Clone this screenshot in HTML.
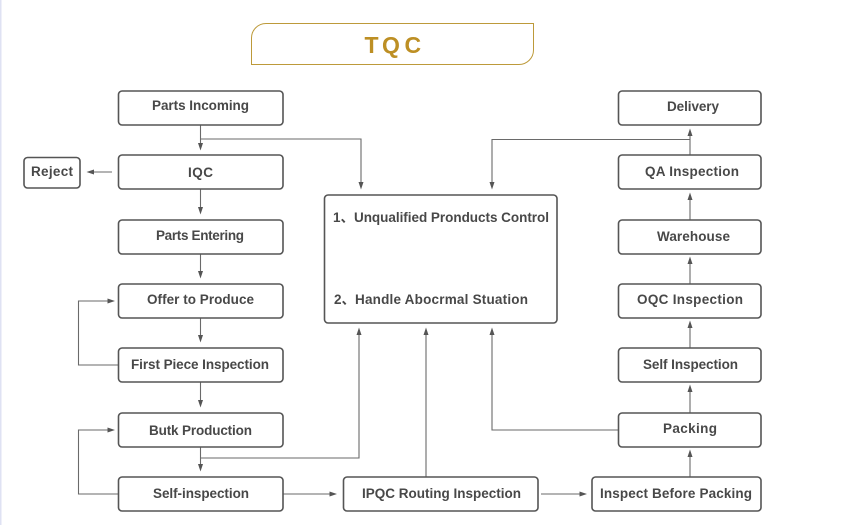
<!DOCTYPE html>
<html><head><meta charset="utf-8"><style>
html,body{margin:0;padding:0;background:#fff;width:853px;height:525px;overflow:hidden}
svg{display:block}
text{font-family:"Liberation Sans","Noto Sans CJK SC",sans-serif;font-weight:bold;font-size:13.5px;fill:#484848}
.b{fill:#fff;stroke:#555;stroke-width:1.6}
.l{fill:none;stroke:#6a6a6a;stroke-width:1.1}
.a{fill:#555}
</style></head><body>
<svg width="853" height="525" viewBox="0 0 853 525" xmlns="http://www.w3.org/2000/svg">
<rect x="0" y="0" width="1.5" height="525" fill="#dfe2f3"/>
<path d="M251.5 64.5V38a14.500 14.500 0 0 1 14.500-14.500H533.500V50a14.500 14.500 0 0 1-14.500 14.500Z" fill="#fff" stroke="#bd9a3a" stroke-width="1"/>
<text x="364.500 382 404.500" y="53" style="font-size:23px;fill:#bd8f24">TQC</text>

<g class="lines">
<path class="l" d="M200.500 125V146M200.500 139H361V185"/>
<path class="l" d="M112 172H92"/>
<path class="l" d="M200.500 189V210"/>
<path class="l" d="M200.500 254V274"/>
<path class="l" d="M200.500 318V338"/>
<path class="l" d="M200.500 382V403"/>
<path class="l" d="M200.500 447V467M200.500 458H359V334"/>
<path class="l" d="M118 365H78.500V301H110"/>
<path class="l" d="M118 494H78.500V430H110"/>
<path class="l" d="M283 494H332"/>
<path class="l" d="M426 477V334"/>
<path class="l" d="M541 494H582"/>
<path class="l" d="M690 477V456"/>
<path class="l" d="M618 430H492V334"/>
<path class="l" d="M690 413V391"/>
<path class="l" d="M690 348V327"/>
<path class="l" d="M690 284V263"/>
<path class="l" d="M690 220V199"/>
<path class="l" d="M690 155V134M690 139.500H492V185"/>
<g class="a">
<path d="M198 143L200.500 150.500L203 143Z"/>
<path d="M358.500 182L361 189.500L363.500 182Z"/>
<path d="M489.500 182L492 189.500L494.500 182Z"/>
<path d="M198 207L200.500 214.500L203 207Z"/>
<path d="M198 271L200.500 278.500L203 271Z"/>
<path d="M198 335L200.500 342.500L203 335Z"/>
<path d="M198 400L200.500 407.500L203 400Z"/>
<path d="M198 464L200.500 471.500L203 464Z"/>
<path d="M94 169.500L86.500 172L94 174.500Z"/>
<path d="M107.500 298.500L115 301L107.500 303.500Z"/>
<path d="M107.500 427.500L115 430L107.500 432.500Z"/>
<path d="M329.500 491.500L337 494L329.500 496.500Z"/>
<path d="M579.500 491.500L587 494L579.500 496.500Z"/>
<path d="M356.500 335L359 327.500L361.500 335Z"/>
<path d="M423.500 335L426 327.500L428.500 335Z"/>
<path d="M489.500 335L492 327.500L494.500 335Z"/>
<path d="M687.500 457L690 449.500L692.500 457Z"/>
<path d="M687.500 392L690 384.500L692.500 392Z"/>
<path d="M687.500 328L690 320.500L692.500 328Z"/>
<path d="M687.500 264L690 256.500L692.500 264Z"/>
<path d="M687.500 200L690 192.500L692.500 200Z"/>
<path d="M687.500 136L690 128.500L692.500 136Z"/>
</g>
</g>

<g class="b">
<rect x="118.500" y="91" width="164.500" height="34" rx="3.500"/>
<rect x="118.500" y="155" width="164.500" height="34" rx="3.500"/>
<rect x="118.500" y="220" width="164.500" height="34" rx="3.500"/>
<rect x="118.500" y="284" width="164.500" height="34" rx="3.500"/>
<rect x="118.500" y="348" width="164.500" height="34" rx="3.500"/>
<rect x="118.500" y="413" width="164.500" height="34" rx="3.500"/>
<rect x="118.500" y="477" width="164.500" height="34" rx="3.500"/>
<rect x="24" y="157.500" width="56" height="30.500" rx="3.500"/>
<rect x="343.500" y="477" width="194.500" height="34" rx="3.500"/>
<rect x="592" y="477" width="169" height="34" rx="3.500"/>
<rect x="618.500" y="91" width="142.500" height="34" rx="3.500"/>
<rect x="618.500" y="155" width="142.500" height="34" rx="3.500"/>
<rect x="618.500" y="220" width="142.500" height="34" rx="3.500"/>
<rect x="618.500" y="284" width="142.500" height="34" rx="3.500"/>
<rect x="618.500" y="348" width="142.500" height="34" rx="3.500"/>
<rect x="618.500" y="413" width="142.500" height="34" rx="3.500"/>
<rect x="324.500" y="195" width="232.500" height="128" rx="3.500"/>
</g>

<text x="152" y="110" textLength="97" lengthAdjust="spacing">Parts Incoming</text>
<text x="188" y="177" textLength="25" lengthAdjust="spacing">IQC</text>
<text x="31" y="176" textLength="42" lengthAdjust="spacing">Reject</text>
<text x="156" y="240" textLength="88" lengthAdjust="spacing">Parts Entering</text>
<text x="147" y="304" textLength="107" lengthAdjust="spacing">Offer to Produce</text>
<text x="131" y="369" textLength="138" lengthAdjust="spacing">First Piece Inspection</text>
<text x="149" y="435" textLength="103" lengthAdjust="spacing">Butk Production</text>
<text x="153" y="498" textLength="96" lengthAdjust="spacing">Self-inspection</text>
<text x="362" y="498" textLength="159" lengthAdjust="spacing">IPQC Routing Inspection</text>
<text x="600" y="498" textLength="152" lengthAdjust="spacing">Inspect Before Packing</text>
<text x="663" y="433" textLength="54" lengthAdjust="spacing">Packing</text>
<text x="643" y="369" textLength="95" lengthAdjust="spacing">Self Inspection</text>
<text x="637" y="304" textLength="106" lengthAdjust="spacing">OQC Inspection</text>
<text x="657" y="241" textLength="73" lengthAdjust="spacing">Warehouse</text>
<text x="645" y="176" textLength="94" lengthAdjust="spacing">QA Inspection</text>
<text x="667" y="111" textLength="52" lengthAdjust="spacing">Delivery</text>
<text x="333" y="222">1、</text>
<text x="354" y="222" textLength="195" lengthAdjust="spacing">Unqualified Pronducts Control</text>
<text x="334" y="304">2、</text>
<text x="355" y="304" textLength="173" lengthAdjust="spacing">Handle Abocrmal Stuation</text>
</svg>
</body></html>
